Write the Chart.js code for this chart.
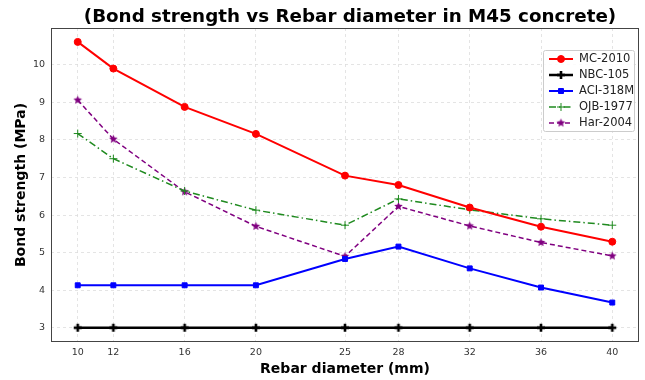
<!DOCTYPE html>
<html><head><meta charset="utf-8">
<script src="https://cdn.jsdelivr.net/npm/chart.js@4/dist/chart.umd.min.js"></script>
<style>html,body{margin:0;padding:0;background:#fff}#wrap{width:645px;height:380px}</style>
</head><body><div id="wrap"><canvas id="c" width="645" height="380"></canvas></div>
<script>
const diameters = [10, 12, 16, 20, 25, 28, 32, 36, 40];
const mc2010 = [10.61, 9.90, 8.88, 8.16, 7.05, 6.80, 6.20, 5.69, 5.29];
const nbc105 = [3.0, 3.0, 3.0, 3.0, 3.0, 3.0, 3.0, 3.0, 3.0];
const aci318m = [4.13, 4.13, 4.13, 4.13, 4.83, 5.16, 4.58, 4.07, 3.67];
const ojb1977 = [8.17, 7.50, 6.64, 6.13, 5.73, 6.43, 6.14, 5.90, 5.73];
const har2004 = [9.06, 8.02, 6.62, 5.70, 4.90, 6.23, 5.71, 5.27, 4.91];
const yTicks = [3, 4, 5, 6, 7, 8, 9, 10];
const seriesNames = ['MC-2010', 'NBC-105', 'ACI-318M', 'OJB-1977', 'Har-2004'];
const chartTitle = '(Bond strength vs Rebar diameter in M45 concrete)';

const FONT = "'DejaVu Sans', sans-serif";
const pts = arr => diameters.map((d, i) => ({x: d, y: arr[i]}));

function starImage(color, r) {
  const c = document.createElement('canvas');
  const s = Math.ceil(r * 2 + 2);
  c.width = s; c.height = s;
  const g = c.getContext('2d');
  g.fillStyle = color;
  g.beginPath();
  for (let k = 0; k < 10; k++) {
    const rr = k % 2 === 0 ? r : r * 0.45;
    const a = -Math.PI / 2 + k * Math.PI / 5;
    const px = s / 2 + rr * Math.cos(a), py = s / 2 + rr * Math.sin(a);
    k === 0 ? g.moveTo(px, py) : g.lineTo(px, py);
  }
  g.closePath(); g.fill();
  return c;
}
function plusImage(color, r, w) {
  const c = document.createElement('canvas');
  const s = Math.ceil(r * 2 + 2);
  c.width = s; c.height = s;
  const g = c.getContext('2d');
  g.fillStyle = color;
  const m = s / 2;
  g.fillRect(m - r, m - w / 2, 2 * r, w);
  g.fillRect(m - w / 2, m - r, w, 2 * r);
  return c;
}
const starMarker = starImage('#800080', 4.5);
const plusMarker = plusImage('#000000', 4, 2.6);

const datasets = [
  {label: seriesNames[0], data: pts(mc2010), borderColor: '#ff0000', backgroundColor: '#ff0000', borderWidth: 2, pointStyle: 'circle', pointRadius: 3.5, pointBorderWidth: 1},
  {label: seriesNames[1], data: pts(nbc105), borderColor: '#000000', backgroundColor: '#000000', borderWidth: 2.5, pointStyle: plusMarker, pointRadius: 4, pointBorderWidth: 1},
  {label: seriesNames[2], data: pts(aci318m), borderColor: '#0000ff', backgroundColor: '#0000ff', borderWidth: 2, pointStyle: 'rect', pointRadius: 3.5, pointBorderWidth: 1},
  {label: seriesNames[3], data: pts(ojb1977), borderColor: '#1f8a1f', backgroundColor: '#1f8a1f', borderWidth: 1.5, borderDash: [7, 3, 1.5, 3], pointStyle: 'cross', pointRadius: 4, pointBorderWidth: 1},
  {label: seriesNames[4], data: pts(har2004), borderColor: '#800080', backgroundColor: '#800080', borderWidth: 1.5, borderDash: [5, 3], pointStyle: starMarker, pointRadius: 4, pointBorderWidth: 1}
];
datasets.forEach(d => { d.tension = 0; d.fill = false; });

const framePlugin = {
  id: 'frame',
  afterDraw(chart) {
    const {ctx, chartArea: a} = chart;
    ctx.save();
    ctx.strokeStyle = '#444';
    ctx.lineWidth = 1;
    ctx.strokeRect(a.left + 0.5, a.top + 0.5, a.right - a.left - 1, a.bottom - a.top - 1);
    // title
    ctx.fillStyle = '#000';
    ctx.font = 'bold 18.3px ' + FONT;
    ctx.textAlign = 'center';
    ctx.textBaseline = 'middle';
    ctx.fillText(chartTitle, (a.left + a.right) / 2 + 5, 17);
    ctx.textAlign = 'left';
    // legend
    const bx = 543, by = 50, bw = 91, bh = 81;
    ctx.fillStyle = 'rgba(255,255,255,0.85)';
    ctx.strokeStyle = '#cccccc';
    ctx.lineWidth = 1;
    ctx.beginPath();
    ctx.roundRect(bx + 0.5, by + 0.5, bw, bh, 2);
    ctx.fill(); ctx.stroke();
    ctx.font = '11.5px ' + FONT;
    ctx.textBaseline = 'middle';
    chart.data.datasets.forEach((ds, i) => {
      const y = by + 9 + i * 16;
      ctx.save();
      ctx.strokeStyle = ds.borderColor;
      ctx.lineWidth = ds.borderWidth;
      ctx.setLineDash(ds.borderDash || []);
      ctx.beginPath(); ctx.moveTo(bx + 6, y); ctx.lineTo(bx + 30, y); ctx.stroke();
      ctx.setLineDash([]);
      ctx.fillStyle = ds.backgroundColor; ctx.strokeStyle = ds.borderColor; ctx.lineWidth = ds.pointBorderWidth;
      Chart.helpers.drawPoint(ctx, {pointStyle: ds.pointStyle, radius: ds.pointRadius, rotation: 0, borderWidth: ds.pointBorderWidth}, bx + 18, y);
      ctx.restore();
      ctx.fillStyle = '#222';
      ctx.fillText(ds.label, bx + 36, y + 0.5);
    });
    ctx.restore();
  }
};

new Chart(document.getElementById('c'), {
  type: 'line',
  data: {datasets},
  options: {
    responsive: false,
    animation: false,
    devicePixelRatio: 1,
    layout: {padding: {left: 0, right: 6, top: 28, bottom: 0}},
    plugins: {
      legend: {display: false},
      tooltip: {enabled: false},
      title: {display: false}
    },
    scales: {
      x: {
        type: 'linear', min: 8.5, max: 41.5,
        afterBuildTicks: s => { s.ticks = diameters.map(v => ({value: v})); },
        afterFit: s => { s.height = 38; },
        grid: {color: '#dddddd', lineWidth: 0.8, drawTicks: false},
        border: {display: false, dash: [3, 3]},
        ticks: {color: '#333', font: {family: FONT, size: 9.5}, padding: 5, autoSkip: false, maxRotation: 0, callback: v => String(v)},
        title: {display: true, text: 'Rebar diameter (mm)', color: '#000', font: {family: FONT, size: 14, weight: 'bold'}, padding: {top: 0, bottom: 2}}
      },
      y: {
        type: 'linear', min: 2.62, max: 10.98,
        afterBuildTicks: s => { s.ticks = yTicks.map(v => ({value: v})); },
        afterFit: s => { s.width = 51; },
        grid: {color: '#dddddd', lineWidth: 0.8, drawTicks: false},
        border: {display: false, dash: [3, 3]},
        ticks: {color: '#333', font: {family: FONT, size: 9.5}, padding: 6, callback: v => String(v)},
        title: {display: true, text: 'Bond strength (MPa)', color: '#000', font: {family: FONT, size: 14, weight: 'bold'}, padding: {top: 13, bottom: 0}}
      }
    }
  },
  plugins: [framePlugin]
});
</script></body></html>
